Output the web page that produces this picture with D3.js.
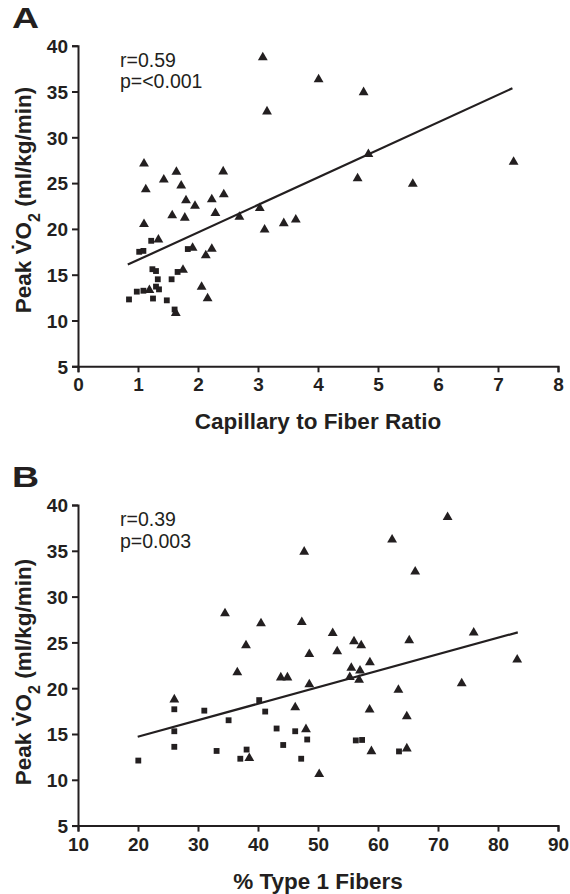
<!DOCTYPE html>
<html><head><meta charset="utf-8">
<script src="https://cdn.jsdelivr.net/npm/d3@7"></script>
<style>body{margin:0;background:#fff}svg{display:block}text{font-family:"Liberation Sans",Arial,sans-serif;fill:#231f20}</style>
</head><body>
<svg id="c" width="570" height="894"></svg>
<script>
// Panel A: capillary to fiber ratio vs peak VO2
const aTriX = [1.10,1.13,1.43,1.64,1.72,1.80,1.57,1.78,1.95,2.23,2.29,2.42,2.43,1.10,1.34,1.91,2.23,2.13,1.75,2.06,2.16,1.19,1.63,2.69,3.03,3.11,3.43,3.63,3.08,3.15,4.01,4.76,4.84,4.66,5.58,7.26];
const aTriY = [27.2,24.4,25.45,26.3,24.8,23.2,21.55,21.3,22.6,23.3,21.8,26.35,23.85,20.6,18.9,18.0,17.9,17.2,15.6,13.75,12.5,13.4,10.9,21.4,22.35,20.0,20.7,21.1,38.8,32.9,36.4,35.0,28.25,25.6,25.0,27.4];
const aSqX = [0.85,0.98,1.09,1.02,1.09,1.22,1.25,1.24,1.30,1.30,1.35,1.33,1.48,1.56,1.61,1.66,1.83];
const aSqY = [12.3,13.15,13.25,17.5,17.6,18.7,12.4,15.6,15.4,13.7,13.4,14.5,12.2,14.5,11.2,15.3,17.8];
const aFitX = [0.83,7.24];
const aFitY = [16.1,35.35];
const aXTicks = [0,1,2,3,4,5,6,7,8];
// Panel B: % type 1 fibers vs peak VO2
const bTriX = [34.5,40.5,38.0,47.7,47.3,36.55,43.8,44.9,48.55,48.55,26.05,46.2,48.0,38.55,71.6,62.35,66.2,52.45,75.95,56.0,57.2,65.2,53.2,58.65,55.55,57.0,55.3,83.2,56.85,63.4,73.95,58.6,64.8,58.9,64.8,50.2];
const bTriY = [28.25,27.15,24.75,34.98,27.3,21.8,21.25,21.25,23.8,20.5,18.85,18.0,15.6,12.45,38.75,36.3,32.8,26.1,26.15,25.2,24.75,25.3,24.1,22.9,22.3,22.0,21.3,23.2,21.0,19.9,20.6,17.75,17.0,13.2,13.5,10.7];
const bSqX = [20.05,26.05,26.05,26.05,31.05,33.1,35.1,37.05,38.1,40.2,41.2,43.1,44.2,46.2,47.2,48.2,56.3,57.35,63.5];
const bSqY = [12.1,17.7,15.3,13.6,17.55,13.15,16.5,12.3,13.3,18.7,17.45,15.6,13.8,15.3,12.3,14.4,14.3,14.35,13.1];
const bFitX = [19.95,83.3];
const bFitY = [14.7,26.1];
const bXTicks = [10,20,30,40,50,60,70,80,90];
const yTicks = [5,10,15,20,25,30,35,40];

const svg = d3.select("#c");
const ink = "#231f20";

function panel(o){
  const g = svg.append("g");
  const x = d3.scaleLinear().domain(o.xd).range([78,558]);
  const y = d3.scaleLinear().domain([5,40]).range([o.y0, o.y0 - 320.6]);
  const xa = g.append("g").attr("transform",`translate(0,${o.y0})`)
    .call(d3.axisBottom(x).tickValues(o.xt).tickSize(6).tickPadding(3).tickFormat(d3.format("d")));
  const ya = g.append("g").attr("transform",`translate(78,0)`)
    .call(d3.axisLeft(y).tickValues(yTicks).tickSize(6).tickPadding(4));
  [xa,ya].forEach(a=>{
    a.select(".domain").attr("stroke",ink).attr("stroke-width",2);
    a.selectAll(".tick line").attr("stroke",ink).attr("stroke-width",2);
    a.selectAll(".tick text").attr("fill",ink).style("font-size","19px").style("font-weight","bold")
      .style("font-family","'Liberation Sans',Arial,sans-serif");
  });
  xa.selectAll(".tick text").attr("dy","0.85em");
  ya.selectAll(".tick text").attr("dy","0.36em");
  g.append("line").attr("x1",x(o.fx[0])).attr("y1",y(o.fy[0])).attr("x2",x(o.fx[1])).attr("y2",y(o.fy[1]))
    .attr("stroke",ink).attr("stroke-width",2.2);
  const sq = d3.symbol().type(d3.symbolSquare).size(34);
  g.selectAll(".sq").data(o.sx.map((v,i)=>[v,o.sy[i]])).join("path")
    .attr("d",sq).attr("transform",d=>`translate(${x(d[0])},${y(d[1])})`).attr("fill",ink);
  const tri = d3.symbol().type(d3.symbolTriangle).size(42);
  g.selectAll(".tr").data(o.tx.map((v,i)=>[v,o.ty[i]])).join("path")
    .attr("d",tri).attr("transform",d=>`translate(${x(d[0])},${y(d[1])+0.8})`).attr("fill",ink);
  g.append("text").attr("transform",`translate(12,${o.y0-338.3})scale(1.25,1)`).text(o.letter)
    .style("font-size","30px").style("font-weight","bold");
  g.append("text").attr("x",120).attr("y",o.y0-299.5).text(o.r).style("font-size","19.5px");
  g.append("text").attr("x",120).attr("y",o.y0-278).text(o.p).style("font-size","19.5px");
  g.append("text").attr("x",318).attr("y",o.y0+63).attr("text-anchor","middle").text(o.xl)
    .style("font-size","22.5px").style("font-weight","bold");
  const yt = g.append("text").attr("transform",`translate(31,${o.yc})rotate(-90)`)
    .attr("text-anchor","middle").style("font-size","22.5px").style("font-weight","bold");
  yt.append("tspan").text("Peak V\u0307O");
  yt.append("tspan").text("2").attr("baseline-shift","sub").style("font-size","16px");
  yt.append("tspan").text(" (ml/kg/min)");
}

panel({letter:"A",xd:[0,8],xt:aXTicks,y0:366.3,yc:200,tx:aTriX,ty:aTriY,sx:aSqX,sy:aSqY,fx:aFitX,fy:aFitY,
  r:"r=0.59",p:"p=<0.001",xl:"Capillary to Fiber Ratio"});
panel({letter:"B",xd:[10,90],xt:bXTicks,y0:825.6,yc:672,tx:bTriX,ty:bTriY,sx:bSqX,sy:bSqY,fx:bFitX,fy:bFitY,
  r:"r=0.39",p:"p=0.003",xl:"% Type 1 Fibers"});
</script>
</body></html>
